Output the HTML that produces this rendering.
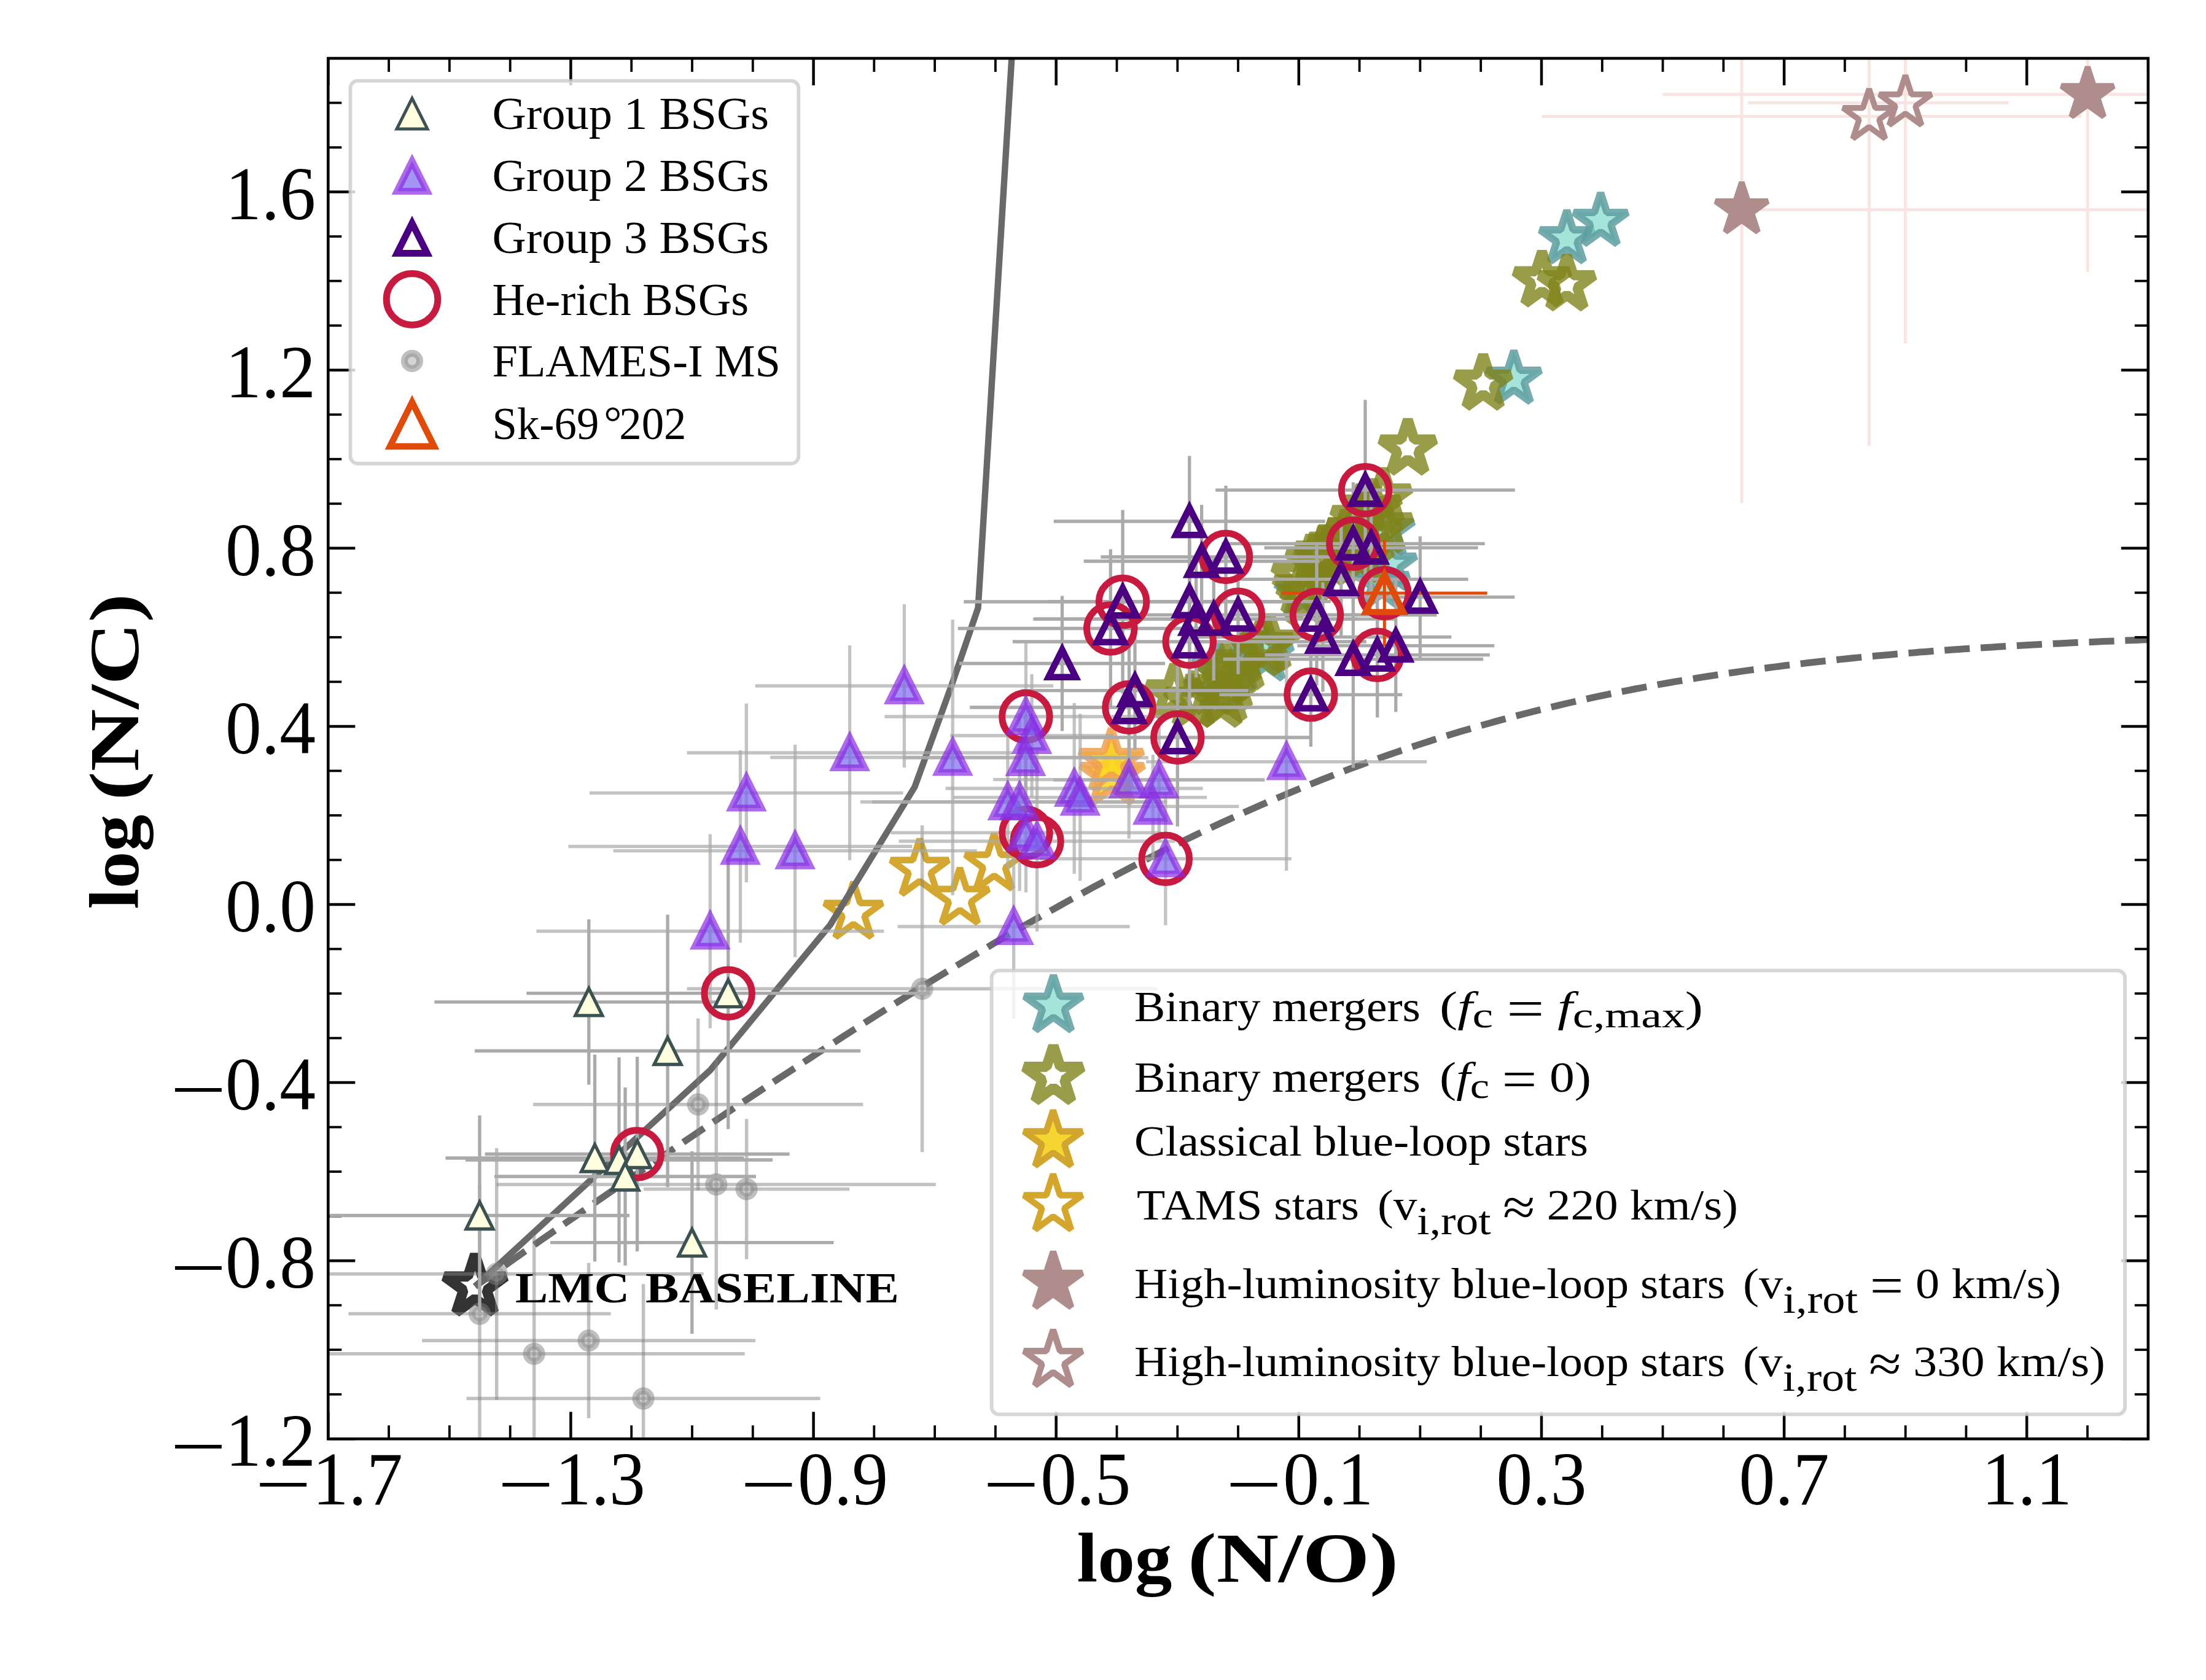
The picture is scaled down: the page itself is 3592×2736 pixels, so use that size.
<!DOCTYPE html>
<html><head><meta charset="utf-8"><title>log(N/C) vs log(N/O)</title>
<style>html,body{margin:0;padding:0;background:#fff}svg{display:block}text{font-family:"Liberation Serif", serif}</style></head><body>
<svg width="3592" height="2736" viewBox="0 0 3592 2736">
<rect width="3592" height="2736" fill="#fff"/>
<defs><clipPath id="ax"><rect x="534.3" y="95.0" width="2963.5" height="2248.3"/></clipPath></defs>
<g clip-path="url(#ax)">
<g id="stars">
<polygon points="773.5,2042.7 785.2,2078.8 823.2,2078.8 792.5,2101.2 804.2,2137.3 773.5,2115.0 742.8,2137.3 754.5,2101.2 723.8,2078.8 761.8,2078.8" fill="none" stroke="#333333" stroke-width="16.70" stroke-linejoin="bevel" />
<polygon points="2061.0,1022.0 2071.3,1053.8 2104.7,1053.8 2077.7,1073.4 2088.0,1105.2 2061.0,1085.6 2034.0,1105.2 2044.3,1073.4 2017.3,1053.8 2050.7,1053.8" fill="rgba(120,215,200,0.67)" stroke="rgba(95,158,160,0.85)" stroke-width="12.00" stroke-linejoin="bevel" />
<polygon points="2015.0,1038.0 2025.3,1069.8 2058.7,1069.8 2031.7,1089.4 2042.0,1121.2 2015.0,1101.6 1988.0,1121.2 1998.3,1089.4 1971.3,1069.8 2004.7,1069.8" fill="rgba(120,215,200,0.67)" stroke="rgba(95,158,160,0.85)" stroke-width="12.00" stroke-linejoin="bevel" />
<polygon points="1985.0,1046.0 1995.3,1077.8 2028.7,1077.8 2001.7,1097.4 2012.0,1129.2 1985.0,1109.6 1958.0,1129.2 1968.3,1097.4 1941.3,1077.8 1974.7,1077.8" fill="rgba(120,215,200,0.67)" stroke="rgba(95,158,160,0.85)" stroke-width="12.00" stroke-linejoin="bevel" />
<polygon points="2121.0,920.0 2131.3,951.8 2164.7,951.8 2137.7,971.4 2148.0,1003.2 2121.0,983.6 2094.0,1003.2 2104.3,971.4 2077.3,951.8 2110.7,951.8" fill="rgba(120,215,200,0.67)" stroke="rgba(95,158,160,0.85)" stroke-width="12.00" stroke-linejoin="bevel" />
<polygon points="2258.0,818.0 2268.3,849.8 2301.7,849.8 2274.7,869.4 2285.0,901.2 2258.0,881.6 2231.0,901.2 2241.3,869.4 2214.3,849.8 2247.7,849.8" fill="rgba(120,215,200,0.67)" stroke="rgba(95,158,160,0.85)" stroke-width="12.00" stroke-linejoin="bevel" />
<polygon points="2262.0,874.0 2272.3,905.8 2305.7,905.8 2278.7,925.4 2289.0,957.2 2262.0,937.6 2235.0,957.2 2245.3,925.4 2218.3,905.8 2251.7,905.8" fill="rgba(120,215,200,0.67)" stroke="rgba(95,158,160,0.85)" stroke-width="12.00" stroke-linejoin="bevel" />
<polygon points="2250.0,904.0 2260.3,935.8 2293.7,935.8 2266.7,955.4 2277.0,987.2 2250.0,967.6 2223.0,987.2 2233.3,955.4 2206.3,935.8 2239.7,935.8" fill="rgba(120,215,200,0.67)" stroke="rgba(95,158,160,0.85)" stroke-width="12.00" stroke-linejoin="bevel" />
<polygon points="2192.0,856.0 2202.3,887.8 2235.7,887.8 2208.7,907.4 2219.0,939.2 2192.0,919.6 2165.0,939.2 2175.3,907.4 2148.3,887.8 2181.7,887.8" fill="rgba(120,215,200,0.67)" stroke="rgba(95,158,160,0.85)" stroke-width="12.00" stroke-linejoin="bevel" />
<polygon points="2465.0,571.2 2475.3,603.0 2508.7,603.0 2481.7,622.6 2492.0,654.4 2465.0,634.8 2438.0,654.4 2448.3,622.6 2421.3,603.0 2454.7,603.0" fill="rgba(120,215,200,0.67)" stroke="rgba(95,158,160,0.85)" stroke-width="12.00" stroke-linejoin="bevel" />
<polygon points="2551.3,342.5 2561.6,374.3 2595.0,374.3 2568.0,393.9 2578.3,425.7 2551.3,406.1 2524.3,425.7 2534.6,393.9 2507.6,374.3 2541.0,374.3" fill="rgba(120,215,200,0.67)" stroke="rgba(95,158,160,0.85)" stroke-width="12.00" stroke-linejoin="bevel" />
<polygon points="2606.3,314.2 2616.6,346.0 2650.0,346.0 2623.0,365.6 2633.3,397.4 2606.3,377.8 2579.3,397.4 2589.6,365.6 2562.6,346.0 2596.0,346.0" fill="rgba(120,215,200,0.67)" stroke="rgba(95,158,160,0.85)" stroke-width="12.00" stroke-linejoin="bevel" />
<polygon points="1912.0,1082.2 1922.5,1114.5 1956.5,1114.5 1929.0,1134.5 1939.5,1166.9 1912.0,1146.9 1884.5,1166.9 1895.0,1134.5 1867.5,1114.5 1901.5,1114.5" fill="none" stroke="rgba(128,131,26,0.8)" stroke-width="16.40" stroke-linejoin="bevel" />
<polygon points="1943.0,1094.2 1953.5,1126.5 1987.5,1126.5 1960.0,1146.5 1970.5,1178.9 1943.0,1158.9 1915.5,1178.9 1926.0,1146.5 1898.5,1126.5 1932.5,1126.5" fill="none" stroke="rgba(128,131,26,0.8)" stroke-width="16.40" stroke-linejoin="bevel" />
<polygon points="1975.0,1073.2 1985.5,1105.5 2019.5,1105.5 1992.0,1125.5 2002.5,1157.9 1975.0,1137.9 1947.5,1157.9 1958.0,1125.5 1930.5,1105.5 1964.5,1105.5" fill="none" stroke="rgba(128,131,26,0.8)" stroke-width="16.40" stroke-linejoin="bevel" />
<polygon points="1988.0,1094.2 1998.5,1126.5 2032.5,1126.5 2005.0,1146.5 2015.5,1178.9 1988.0,1158.9 1960.5,1178.9 1971.0,1146.5 1943.5,1126.5 1977.5,1126.5" fill="none" stroke="rgba(128,131,26,0.8)" stroke-width="16.40" stroke-linejoin="bevel" />
<polygon points="1996.0,1086.2 2006.5,1118.5 2040.5,1118.5 2013.0,1138.5 2023.5,1170.9 1996.0,1150.9 1968.5,1170.9 1979.0,1138.5 1951.5,1118.5 1985.5,1118.5" fill="none" stroke="rgba(128,131,26,0.8)" stroke-width="16.40" stroke-linejoin="bevel" />
<polygon points="2005.0,1065.2 2015.5,1097.5 2049.5,1097.5 2022.0,1117.5 2032.5,1149.9 2005.0,1129.9 1977.5,1149.9 1988.0,1117.5 1960.5,1097.5 1994.5,1097.5" fill="none" stroke="rgba(128,131,26,0.8)" stroke-width="16.40" stroke-linejoin="bevel" />
<polygon points="1995.0,1050.2 2005.5,1082.5 2039.5,1082.5 2012.0,1102.5 2022.5,1134.9 1995.0,1114.9 1967.5,1134.9 1978.0,1102.5 1950.5,1082.5 1984.5,1082.5" fill="none" stroke="rgba(128,131,26,0.8)" stroke-width="16.40" stroke-linejoin="bevel" />
<polygon points="2024.0,1033.2 2034.5,1065.5 2068.5,1065.5 2041.0,1085.5 2051.5,1117.9 2024.0,1097.9 1996.5,1117.9 2007.0,1085.5 1979.5,1065.5 2013.5,1065.5" fill="none" stroke="rgba(128,131,26,0.8)" stroke-width="16.40" stroke-linejoin="bevel" />
<polygon points="2052.0,1010.2 2062.5,1042.5 2096.5,1042.5 2069.0,1062.5 2079.5,1094.9 2052.0,1074.9 2024.5,1094.9 2035.0,1062.5 2007.5,1042.5 2041.5,1042.5" fill="none" stroke="rgba(128,131,26,0.8)" stroke-width="16.40" stroke-linejoin="bevel" />
<polygon points="2060.0,1005.2 2070.5,1037.5 2104.5,1037.5 2077.0,1057.5 2087.5,1089.9 2060.0,1069.9 2032.5,1089.9 2043.0,1057.5 2015.5,1037.5 2049.5,1037.5" fill="none" stroke="rgba(128,131,26,0.8)" stroke-width="16.40" stroke-linejoin="bevel" />
<polygon points="2068.0,1001.2 2078.5,1033.5 2112.5,1033.5 2085.0,1053.5 2095.5,1085.9 2068.0,1065.9 2040.5,1085.9 2051.0,1053.5 2023.5,1033.5 2057.5,1033.5" fill="none" stroke="rgba(128,131,26,0.8)" stroke-width="16.40" stroke-linejoin="bevel" />
<polygon points="2126.0,927.2 2136.5,959.5 2170.5,959.5 2143.0,979.5 2153.5,1011.9 2126.0,991.9 2098.5,1011.9 2109.0,979.5 2081.5,959.5 2115.5,959.5" fill="none" stroke="rgba(128,131,26,0.8)" stroke-width="16.40" stroke-linejoin="bevel" />
<polygon points="2120.0,911.2 2130.5,943.5 2164.5,943.5 2137.0,963.5 2147.5,995.9 2120.0,975.9 2092.5,995.9 2103.0,963.5 2075.5,943.5 2109.5,943.5" fill="none" stroke="rgba(128,131,26,0.8)" stroke-width="16.40" stroke-linejoin="bevel" />
<polygon points="2118.0,891.2 2128.5,923.5 2162.5,923.5 2135.0,943.5 2145.5,975.9 2118.0,955.9 2090.5,975.9 2101.0,943.5 2073.5,923.5 2107.5,923.5" fill="none" stroke="rgba(128,131,26,0.8)" stroke-width="16.40" stroke-linejoin="bevel" />
<polygon points="2140.0,868.2 2150.5,900.5 2184.5,900.5 2157.0,920.5 2167.5,952.9 2140.0,932.9 2112.5,952.9 2123.0,920.5 2095.5,900.5 2129.5,900.5" fill="none" stroke="rgba(128,131,26,0.8)" stroke-width="16.40" stroke-linejoin="bevel" />
<polygon points="2160.0,863.2 2170.5,895.5 2204.5,895.5 2177.0,915.5 2187.5,947.9 2160.0,927.9 2132.5,947.9 2143.0,915.5 2115.5,895.5 2149.5,895.5" fill="none" stroke="rgba(128,131,26,0.8)" stroke-width="16.40" stroke-linejoin="bevel" />
<polygon points="2215.0,858.2 2225.5,890.5 2259.5,890.5 2232.0,910.5 2242.5,942.9 2215.0,922.9 2187.5,942.9 2198.0,910.5 2170.5,890.5 2204.5,890.5" fill="none" stroke="rgba(128,131,26,0.8)" stroke-width="16.40" stroke-linejoin="bevel" />
<polygon points="2155.0,856.2 2165.5,888.5 2199.5,888.5 2172.0,908.5 2182.5,940.9 2155.0,920.9 2127.5,940.9 2138.0,908.5 2110.5,888.5 2144.5,888.5" fill="none" stroke="rgba(128,131,26,0.8)" stroke-width="16.40" stroke-linejoin="bevel" />
<polygon points="2170.0,845.2 2180.5,877.5 2214.5,877.5 2187.0,897.5 2197.5,929.9 2170.0,909.9 2142.5,929.9 2153.0,897.5 2125.5,877.5 2159.5,877.5" fill="none" stroke="rgba(128,131,26,0.8)" stroke-width="16.40" stroke-linejoin="bevel" />
<polygon points="2200.0,846.2 2210.5,878.5 2244.5,878.5 2217.0,898.5 2227.5,930.9 2200.0,910.9 2172.5,930.9 2183.0,898.5 2155.5,878.5 2189.5,878.5" fill="none" stroke="rgba(128,131,26,0.8)" stroke-width="16.40" stroke-linejoin="bevel" />
<polygon points="2190.0,831.2 2200.5,863.5 2234.5,863.5 2207.0,883.5 2217.5,915.9 2190.0,895.9 2162.5,915.9 2173.0,883.5 2145.5,863.5 2179.5,863.5" fill="none" stroke="rgba(128,131,26,0.8)" stroke-width="16.40" stroke-linejoin="bevel" />
<polygon points="2207.0,818.2 2217.5,850.5 2251.5,850.5 2224.0,870.5 2234.5,902.9 2207.0,882.9 2179.5,902.9 2190.0,870.5 2162.5,850.5 2196.5,850.5" fill="none" stroke="rgba(128,131,26,0.8)" stroke-width="16.40" stroke-linejoin="bevel" />
<polygon points="2236.0,823.2 2246.5,855.5 2280.5,855.5 2253.0,875.5 2263.5,907.9 2236.0,887.9 2208.5,907.9 2219.0,875.5 2191.5,855.5 2225.5,855.5" fill="none" stroke="rgba(128,131,26,0.8)" stroke-width="16.40" stroke-linejoin="bevel" />
<polygon points="2214.0,798.2 2224.5,830.5 2258.5,830.5 2231.0,850.5 2241.5,882.9 2214.0,862.9 2186.5,882.9 2197.0,850.5 2169.5,830.5 2203.5,830.5" fill="none" stroke="rgba(128,131,26,0.8)" stroke-width="16.40" stroke-linejoin="bevel" />
<polygon points="2254.0,810.2 2264.5,842.5 2298.5,842.5 2271.0,862.5 2281.5,894.9 2254.0,874.9 2226.5,894.9 2237.0,862.5 2209.5,842.5 2243.5,842.5" fill="none" stroke="rgba(128,131,26,0.8)" stroke-width="16.40" stroke-linejoin="bevel" />
<polygon points="2235.0,781.2 2245.5,813.5 2279.5,813.5 2252.0,833.5 2262.5,865.9 2235.0,845.9 2207.5,865.9 2218.0,833.5 2190.5,813.5 2224.5,813.5" fill="none" stroke="rgba(128,131,26,0.8)" stroke-width="16.40" stroke-linejoin="bevel" />
<polygon points="2252.0,763.2 2262.5,795.5 2296.5,795.5 2269.0,815.5 2279.5,847.9 2252.0,827.9 2224.5,847.9 2235.0,815.5 2207.5,795.5 2241.5,795.5" fill="none" stroke="rgba(128,131,26,0.8)" stroke-width="16.40" stroke-linejoin="bevel" />
<polygon points="2292.3,683.4 2302.8,715.7 2336.8,715.7 2309.3,735.7 2319.8,768.1 2292.3,748.1 2264.8,768.1 2275.3,735.7 2247.8,715.7 2281.8,715.7" fill="none" stroke="rgba(128,131,26,0.8)" stroke-width="16.40" stroke-linejoin="bevel" />
<polygon points="2415.0,577.7 2425.5,610.0 2459.5,610.0 2432.0,630.0 2442.5,662.4 2415.0,642.4 2387.5,662.4 2398.0,630.0 2370.5,610.0 2404.5,610.0" fill="none" stroke="rgba(128,131,26,0.8)" stroke-width="16.40" stroke-linejoin="bevel" />
<polygon points="2510.8,409.5 2521.3,441.8 2555.3,441.8 2527.8,461.8 2538.3,494.2 2510.8,474.2 2483.3,494.2 2493.8,461.8 2466.3,441.8 2500.3,441.8" fill="none" stroke="rgba(128,131,26,0.8)" stroke-width="16.40" stroke-linejoin="bevel" />
<polygon points="2551.3,416.0 2561.8,448.3 2595.8,448.3 2568.3,468.3 2578.8,500.7 2551.3,480.7 2523.8,500.7 2534.3,468.3 2506.8,448.3 2540.8,448.3" fill="none" stroke="rgba(128,131,26,0.8)" stroke-width="16.40" stroke-linejoin="bevel" />
<polygon points="1811.0,1209.3 1823.2,1246.8 1862.5,1246.8 1830.7,1269.9 1842.9,1307.3 1811.0,1284.2 1779.1,1307.3 1791.3,1269.9 1759.5,1246.8 1798.8,1246.8" fill="rgba(250,215,30,0.85)" stroke="rgba(238,160,80,0.85)" stroke-width="12.00" stroke-linejoin="bevel" />
<polygon points="1809.5,1186.4 1821.7,1223.9 1861.0,1223.9 1829.2,1247.0 1841.4,1284.4 1809.5,1261.3 1777.6,1284.4 1789.8,1247.0 1758.0,1223.9 1797.3,1223.9" fill="rgba(250,215,30,0.85)" stroke="rgba(238,160,80,0.85)" stroke-width="12.00" stroke-linejoin="bevel" />
<polygon points="1389.6,1436.4 1400.7,1470.7 1436.8,1470.7 1407.6,1491.9 1418.8,1526.1 1389.6,1504.9 1360.4,1526.1 1371.6,1491.9 1342.4,1470.7 1378.5,1470.7" fill="none" stroke="#D4A830" stroke-width="10.80" stroke-linejoin="bevel" />
<polygon points="1497.5,1366.4 1508.6,1400.7 1544.7,1400.7 1515.5,1421.9 1526.7,1456.1 1497.5,1434.9 1468.3,1456.1 1479.5,1421.9 1450.3,1400.7 1486.4,1400.7" fill="none" stroke="#D4A830" stroke-width="10.80" stroke-linejoin="bevel" />
<polygon points="1562.9,1413.5 1574.0,1447.8 1610.1,1447.8 1580.9,1469.0 1592.1,1503.2 1562.9,1482.0 1533.7,1503.2 1544.9,1469.0 1515.7,1447.8 1551.8,1447.8" fill="none" stroke="#D4A830" stroke-width="10.80" stroke-linejoin="bevel" />
<polygon points="1618.8,1357.7 1629.9,1392.0 1666.0,1392.0 1636.8,1413.2 1648.0,1447.4 1618.8,1426.2 1589.6,1447.4 1600.8,1413.2 1571.6,1392.0 1607.7,1392.0" fill="none" stroke="#D4A830" stroke-width="10.80" stroke-linejoin="bevel" />
</g>
<g id="lines" fill="none" stroke="#696969" stroke-width="11">
<polyline points="773.5,2095.0 1157.0,1742.3 1352.0,1506.0 1489.4,1281.6 1550.0,1114.6 1592.6,990.0 1647.5,92.0" stroke-width="10.4" stroke-linejoin="round"/>
<polyline points="773.5,2095.0 782.6,2088.6 791.7,2082.2 800.7,2075.8 809.8,2069.4 818.9,2063.1 828.0,2056.7 837.1,2050.3 846.1,2044.0 855.2,2037.6 864.3,2031.3 873.4,2024.9 882.5,2018.6 891.6,2012.2 900.6,2005.9 909.7,1999.6 918.8,1993.3 927.9,1987.0 937.0,1980.7 946.0,1974.4 955.1,1968.1 964.2,1961.8 973.3,1955.5 982.4,1949.3 991.4,1943.0 1000.5,1936.7 1009.6,1930.5 1018.7,1924.3 1027.8,1918.0 1036.8,1911.8 1045.9,1905.6 1055.0,1899.4 1064.1,1893.2 1073.2,1887.0 1082.3,1880.8 1091.3,1874.6 1100.4,1868.5 1109.5,1862.3 1118.6,1856.1 1127.7,1850.0 1136.7,1843.9 1145.8,1837.8 1154.9,1831.6 1164.0,1825.6 1173.1,1819.5 1182.1,1813.4 1191.2,1807.3 1200.3,1801.3 1209.4,1795.2 1218.5,1789.2 1227.5,1783.2 1236.6,1777.1 1245.7,1771.1 1254.8,1765.2 1263.9,1759.2 1273.0,1753.2 1282.0,1747.3 1291.1,1741.3 1300.2,1735.4 1309.3,1729.5 1318.4,1723.6 1327.4,1717.7 1336.5,1711.7 1345.6,1705.8 1354.7,1699.9 1363.8,1694.1 1372.8,1688.2 1381.9,1682.4 1391.0,1676.5 1400.1,1670.7 1409.2,1664.9 1418.3,1659.1 1427.3,1653.4 1436.4,1647.6 1445.5,1641.9 1454.6,1636.2 1463.7,1630.5 1472.7,1624.8 1481.8,1619.2 1490.9,1613.5 1500.0,1607.9 1509.1,1602.3 1518.1,1596.7 1527.2,1591.1 1536.3,1585.6 1545.4,1580.0 1554.5,1574.5 1563.5,1569.1 1572.6,1563.6 1581.7,1558.1 1590.8,1552.7 1599.9,1547.3 1609.0,1541.9 1618.0,1536.6 1627.1,1531.2 1636.2,1525.9 1645.3,1520.6 1654.4,1515.4 1663.4,1510.1 1672.5,1504.9 1681.6,1499.7 1690.7,1494.5 1699.8,1489.4 1708.8,1484.3 1717.9,1479.2 1727.0,1474.1 1736.1,1469.0 1745.2,1464.0 1754.2,1459.0 1763.3,1454.1 1772.4,1449.1 1781.5,1444.2 1790.6,1439.3 1799.7,1434.5 1808.7,1429.6 1817.8,1424.8 1826.9,1420.1 1836.0,1415.3 1845.1,1410.6 1854.1,1405.9 1863.2,1401.3 1872.3,1396.6 1881.4,1392.0 1890.5,1387.5 1899.5,1383.0 1908.6,1378.4 1917.7,1374.0 1926.8,1369.5 1935.9,1365.1 1944.9,1360.7 1954.0,1356.4 1963.1,1352.1 1972.2,1347.8 1981.3,1343.6 1990.4,1339.3 1999.4,1335.2 2008.5,1331.0 2017.6,1326.9 2026.7,1322.8 2035.8,1318.8 2044.8,1314.7 2053.9,1310.8 2063.0,1306.8 2072.1,1302.9 2081.2,1299.0 2090.2,1295.2 2099.3,1291.4 2108.4,1287.6 2117.5,1283.8 2126.6,1280.1 2135.6,1276.5 2144.7,1272.8 2153.8,1269.2 2162.9,1265.7 2172.0,1262.1 2181.1,1258.6 2190.1,1255.2 2199.2,1251.7 2208.3,1248.3 2217.4,1245.0 2226.5,1241.7 2235.5,1238.4 2244.6,1235.1 2253.7,1231.9 2262.8,1228.7 2271.9,1225.6 2280.9,1222.5 2290.0,1219.4 2299.1,1216.4 2308.2,1213.4 2317.3,1210.4 2326.4,1207.5 2335.4,1204.6 2344.5,1201.7 2353.6,1198.9 2362.7,1196.1 2371.8,1193.3 2380.8,1190.6 2389.9,1187.9 2399.0,1185.2 2408.1,1182.6 2417.2,1180.0 2426.2,1177.5 2435.3,1174.9 2444.4,1172.4 2453.5,1170.0 2462.6,1167.5 2471.6,1165.2 2480.7,1162.8 2489.8,1160.5 2498.9,1158.2 2508.0,1155.9 2517.1,1153.7 2526.1,1151.5 2535.2,1149.3 2544.3,1147.2 2553.4,1145.0 2562.5,1143.0 2571.5,1140.9 2580.6,1138.9 2589.7,1136.9 2598.8,1134.9 2607.9,1133.0 2616.9,1131.1 2626.0,1129.2 2635.1,1127.4 2644.2,1125.6 2653.3,1123.8 2662.3,1122.0 2671.4,1120.3 2680.5,1118.6 2689.6,1116.9 2698.7,1115.2 2707.8,1113.6 2716.8,1112.0 2725.9,1110.4 2735.0,1108.9 2744.1,1107.4 2753.2,1105.9 2762.2,1104.4 2771.3,1102.9 2780.4,1101.5 2789.5,1100.1 2798.6,1098.7 2807.6,1097.3 2816.7,1096.0 2825.8,1094.7 2834.9,1093.4 2844.0,1092.1 2853.0,1090.9 2862.1,1089.7 2871.2,1088.5 2880.3,1087.3 2889.4,1086.1 2898.5,1085.0 2907.5,1083.8 2916.6,1082.7 2925.7,1081.7 2934.8,1080.6 2943.9,1079.5 2952.9,1078.5 2962.0,1077.5 2971.1,1076.5 2980.2,1075.5 2989.3,1074.6 2998.3,1073.6 3007.4,1072.7 3016.5,1071.8 3025.6,1070.9 3034.7,1070.0 3043.8,1069.2 3052.8,1068.3 3061.9,1067.5 3071.0,1066.7 3080.1,1065.9 3089.2,1065.1 3098.2,1064.4 3107.3,1063.6 3116.4,1062.9 3125.5,1062.1 3134.6,1061.4 3143.6,1060.7 3152.7,1060.0 3161.8,1059.4 3170.9,1058.7 3180.0,1058.1 3189.0,1057.4 3198.1,1056.8 3207.2,1056.2 3216.3,1055.6 3225.4,1055.0 3234.5,1054.4 3243.5,1053.9 3252.6,1053.3 3261.7,1052.8 3270.8,1052.2 3279.9,1051.7 3288.9,1051.2 3298.0,1050.7 3307.1,1050.2 3316.2,1049.7 3325.3,1049.2 3334.3,1048.8 3343.4,1048.3 3352.5,1047.9 3361.6,1047.4 3370.7,1047.0 3379.7,1046.6 3388.8,1046.2 3397.9,1045.8 3407.0,1045.4 3416.1,1045.0 3425.2,1044.6 3434.2,1044.2 3443.3,1043.9 3452.4,1043.5 3461.5,1043.1 3470.6,1042.8 3479.6,1042.5 3488.7,1042.1 3497.8,1041.8" stroke-dasharray="41.1 17.8"/>
</g>
</g>
<g id="ticks" stroke="#000">
<line x1="534.3" y1="2343.3" x2="534.3" y2="2299.3" stroke-width="4.5"/>
<line x1="534.3" y1="95.0" x2="534.3" y2="139.0" stroke-width="4.5"/>
<line x1="633.1" y1="2343.3" x2="633.1" y2="2321.3" stroke-width="3.8"/>
<line x1="633.1" y1="95.0" x2="633.1" y2="117.0" stroke-width="3.8"/>
<line x1="731.9" y1="2343.3" x2="731.9" y2="2321.3" stroke-width="3.8"/>
<line x1="731.9" y1="95.0" x2="731.9" y2="117.0" stroke-width="3.8"/>
<line x1="830.7" y1="2343.3" x2="830.7" y2="2321.3" stroke-width="3.8"/>
<line x1="830.7" y1="95.0" x2="830.7" y2="117.0" stroke-width="3.8"/>
<line x1="929.4" y1="2343.3" x2="929.4" y2="2299.3" stroke-width="4.5"/>
<line x1="929.4" y1="95.0" x2="929.4" y2="139.0" stroke-width="4.5"/>
<line x1="1028.2" y1="2343.3" x2="1028.2" y2="2321.3" stroke-width="3.8"/>
<line x1="1028.2" y1="95.0" x2="1028.2" y2="117.0" stroke-width="3.8"/>
<line x1="1127.0" y1="2343.3" x2="1127.0" y2="2321.3" stroke-width="3.8"/>
<line x1="1127.0" y1="95.0" x2="1127.0" y2="117.0" stroke-width="3.8"/>
<line x1="1225.8" y1="2343.3" x2="1225.8" y2="2321.3" stroke-width="3.8"/>
<line x1="1225.8" y1="95.0" x2="1225.8" y2="117.0" stroke-width="3.8"/>
<line x1="1324.6" y1="2343.3" x2="1324.6" y2="2299.3" stroke-width="4.5"/>
<line x1="1324.6" y1="95.0" x2="1324.6" y2="139.0" stroke-width="4.5"/>
<line x1="1423.3" y1="2343.3" x2="1423.3" y2="2321.3" stroke-width="3.8"/>
<line x1="1423.3" y1="95.0" x2="1423.3" y2="117.0" stroke-width="3.8"/>
<line x1="1522.1" y1="2343.3" x2="1522.1" y2="2321.3" stroke-width="3.8"/>
<line x1="1522.1" y1="95.0" x2="1522.1" y2="117.0" stroke-width="3.8"/>
<line x1="1620.9" y1="2343.3" x2="1620.9" y2="2321.3" stroke-width="3.8"/>
<line x1="1620.9" y1="95.0" x2="1620.9" y2="117.0" stroke-width="3.8"/>
<line x1="1719.7" y1="2343.3" x2="1719.7" y2="2299.3" stroke-width="4.5"/>
<line x1="1719.7" y1="95.0" x2="1719.7" y2="139.0" stroke-width="4.5"/>
<line x1="1818.5" y1="2343.3" x2="1818.5" y2="2321.3" stroke-width="3.8"/>
<line x1="1818.5" y1="95.0" x2="1818.5" y2="117.0" stroke-width="3.8"/>
<line x1="1917.3" y1="2343.3" x2="1917.3" y2="2321.3" stroke-width="3.8"/>
<line x1="1917.3" y1="95.0" x2="1917.3" y2="117.0" stroke-width="3.8"/>
<line x1="2016.0" y1="2343.3" x2="2016.0" y2="2321.3" stroke-width="3.8"/>
<line x1="2016.0" y1="95.0" x2="2016.0" y2="117.0" stroke-width="3.8"/>
<line x1="2114.8" y1="2343.3" x2="2114.8" y2="2299.3" stroke-width="4.5"/>
<line x1="2114.8" y1="95.0" x2="2114.8" y2="139.0" stroke-width="4.5"/>
<line x1="2213.6" y1="2343.3" x2="2213.6" y2="2321.3" stroke-width="3.8"/>
<line x1="2213.6" y1="95.0" x2="2213.6" y2="117.0" stroke-width="3.8"/>
<line x1="2312.4" y1="2343.3" x2="2312.4" y2="2321.3" stroke-width="3.8"/>
<line x1="2312.4" y1="95.0" x2="2312.4" y2="117.0" stroke-width="3.8"/>
<line x1="2411.2" y1="2343.3" x2="2411.2" y2="2321.3" stroke-width="3.8"/>
<line x1="2411.2" y1="95.0" x2="2411.2" y2="117.0" stroke-width="3.8"/>
<line x1="2510.0" y1="2343.3" x2="2510.0" y2="2299.3" stroke-width="4.5"/>
<line x1="2510.0" y1="95.0" x2="2510.0" y2="139.0" stroke-width="4.5"/>
<line x1="2608.8" y1="2343.3" x2="2608.8" y2="2321.3" stroke-width="3.8"/>
<line x1="2608.8" y1="95.0" x2="2608.8" y2="117.0" stroke-width="3.8"/>
<line x1="2707.5" y1="2343.3" x2="2707.5" y2="2321.3" stroke-width="3.8"/>
<line x1="2707.5" y1="95.0" x2="2707.5" y2="117.0" stroke-width="3.8"/>
<line x1="2806.3" y1="2343.3" x2="2806.3" y2="2321.3" stroke-width="3.8"/>
<line x1="2806.3" y1="95.0" x2="2806.3" y2="117.0" stroke-width="3.8"/>
<line x1="2905.1" y1="2343.3" x2="2905.1" y2="2299.3" stroke-width="4.5"/>
<line x1="2905.1" y1="95.0" x2="2905.1" y2="139.0" stroke-width="4.5"/>
<line x1="3003.9" y1="2343.3" x2="3003.9" y2="2321.3" stroke-width="3.8"/>
<line x1="3003.9" y1="95.0" x2="3003.9" y2="117.0" stroke-width="3.8"/>
<line x1="3102.7" y1="2343.3" x2="3102.7" y2="2321.3" stroke-width="3.8"/>
<line x1="3102.7" y1="95.0" x2="3102.7" y2="117.0" stroke-width="3.8"/>
<line x1="3201.4" y1="2343.3" x2="3201.4" y2="2321.3" stroke-width="3.8"/>
<line x1="3201.4" y1="95.0" x2="3201.4" y2="117.0" stroke-width="3.8"/>
<line x1="3300.2" y1="2343.3" x2="3300.2" y2="2299.3" stroke-width="4.5"/>
<line x1="3300.2" y1="95.0" x2="3300.2" y2="139.0" stroke-width="4.5"/>
<line x1="3399.0" y1="2343.3" x2="3399.0" y2="2321.3" stroke-width="3.8"/>
<line x1="3399.0" y1="95.0" x2="3399.0" y2="117.0" stroke-width="3.8"/>
<line x1="3497.8" y1="2343.3" x2="3497.8" y2="2321.3" stroke-width="3.8"/>
<line x1="3497.8" y1="95.0" x2="3497.8" y2="117.0" stroke-width="3.8"/>
<line x1="534.3" y1="2343.3" x2="578.3" y2="2343.3" stroke-width="4.5"/>
<line x1="3497.8" y1="2343.3" x2="3453.8" y2="2343.3" stroke-width="4.5"/>
<line x1="534.3" y1="2270.8" x2="556.3" y2="2270.8" stroke-width="3.8"/>
<line x1="3497.8" y1="2270.8" x2="3475.8" y2="2270.8" stroke-width="3.8"/>
<line x1="534.3" y1="2198.2" x2="556.3" y2="2198.2" stroke-width="3.8"/>
<line x1="3497.8" y1="2198.2" x2="3475.8" y2="2198.2" stroke-width="3.8"/>
<line x1="534.3" y1="2125.7" x2="556.3" y2="2125.7" stroke-width="3.8"/>
<line x1="3497.8" y1="2125.7" x2="3475.8" y2="2125.7" stroke-width="3.8"/>
<line x1="534.3" y1="2053.2" x2="578.3" y2="2053.2" stroke-width="4.5"/>
<line x1="3497.8" y1="2053.2" x2="3453.8" y2="2053.2" stroke-width="4.5"/>
<line x1="534.3" y1="1980.7" x2="556.3" y2="1980.7" stroke-width="3.8"/>
<line x1="3497.8" y1="1980.7" x2="3475.8" y2="1980.7" stroke-width="3.8"/>
<line x1="534.3" y1="1908.1" x2="556.3" y2="1908.1" stroke-width="3.8"/>
<line x1="3497.8" y1="1908.1" x2="3475.8" y2="1908.1" stroke-width="3.8"/>
<line x1="534.3" y1="1835.6" x2="556.3" y2="1835.6" stroke-width="3.8"/>
<line x1="3497.8" y1="1835.6" x2="3475.8" y2="1835.6" stroke-width="3.8"/>
<line x1="534.3" y1="1763.1" x2="578.3" y2="1763.1" stroke-width="4.5"/>
<line x1="3497.8" y1="1763.1" x2="3453.8" y2="1763.1" stroke-width="4.5"/>
<line x1="534.3" y1="1690.6" x2="556.3" y2="1690.6" stroke-width="3.8"/>
<line x1="3497.8" y1="1690.6" x2="3475.8" y2="1690.6" stroke-width="3.8"/>
<line x1="534.3" y1="1618.0" x2="556.3" y2="1618.0" stroke-width="3.8"/>
<line x1="3497.8" y1="1618.0" x2="3475.8" y2="1618.0" stroke-width="3.8"/>
<line x1="534.3" y1="1545.5" x2="556.3" y2="1545.5" stroke-width="3.8"/>
<line x1="3497.8" y1="1545.5" x2="3475.8" y2="1545.5" stroke-width="3.8"/>
<line x1="534.3" y1="1473.0" x2="578.3" y2="1473.0" stroke-width="4.5"/>
<line x1="3497.8" y1="1473.0" x2="3453.8" y2="1473.0" stroke-width="4.5"/>
<line x1="534.3" y1="1400.5" x2="556.3" y2="1400.5" stroke-width="3.8"/>
<line x1="3497.8" y1="1400.5" x2="3475.8" y2="1400.5" stroke-width="3.8"/>
<line x1="534.3" y1="1327.9" x2="556.3" y2="1327.9" stroke-width="3.8"/>
<line x1="3497.8" y1="1327.9" x2="3475.8" y2="1327.9" stroke-width="3.8"/>
<line x1="534.3" y1="1255.4" x2="556.3" y2="1255.4" stroke-width="3.8"/>
<line x1="3497.8" y1="1255.4" x2="3475.8" y2="1255.4" stroke-width="3.8"/>
<line x1="534.3" y1="1182.9" x2="578.3" y2="1182.9" stroke-width="4.5"/>
<line x1="3497.8" y1="1182.9" x2="3453.8" y2="1182.9" stroke-width="4.5"/>
<line x1="534.3" y1="1110.4" x2="556.3" y2="1110.4" stroke-width="3.8"/>
<line x1="3497.8" y1="1110.4" x2="3475.8" y2="1110.4" stroke-width="3.8"/>
<line x1="534.3" y1="1037.8" x2="556.3" y2="1037.8" stroke-width="3.8"/>
<line x1="3497.8" y1="1037.8" x2="3475.8" y2="1037.8" stroke-width="3.8"/>
<line x1="534.3" y1="965.3" x2="556.3" y2="965.3" stroke-width="3.8"/>
<line x1="3497.8" y1="965.3" x2="3475.8" y2="965.3" stroke-width="3.8"/>
<line x1="534.3" y1="892.8" x2="578.3" y2="892.8" stroke-width="4.5"/>
<line x1="3497.8" y1="892.8" x2="3453.8" y2="892.8" stroke-width="4.5"/>
<line x1="534.3" y1="820.3" x2="556.3" y2="820.3" stroke-width="3.8"/>
<line x1="3497.8" y1="820.3" x2="3475.8" y2="820.3" stroke-width="3.8"/>
<line x1="534.3" y1="747.7" x2="556.3" y2="747.7" stroke-width="3.8"/>
<line x1="3497.8" y1="747.7" x2="3475.8" y2="747.7" stroke-width="3.8"/>
<line x1="534.3" y1="675.2" x2="556.3" y2="675.2" stroke-width="3.8"/>
<line x1="3497.8" y1="675.2" x2="3475.8" y2="675.2" stroke-width="3.8"/>
<line x1="534.3" y1="602.7" x2="578.3" y2="602.7" stroke-width="4.5"/>
<line x1="3497.8" y1="602.7" x2="3453.8" y2="602.7" stroke-width="4.5"/>
<line x1="534.3" y1="530.2" x2="556.3" y2="530.2" stroke-width="3.8"/>
<line x1="3497.8" y1="530.2" x2="3475.8" y2="530.2" stroke-width="3.8"/>
<line x1="534.3" y1="457.6" x2="556.3" y2="457.6" stroke-width="3.8"/>
<line x1="3497.8" y1="457.6" x2="3475.8" y2="457.6" stroke-width="3.8"/>
<line x1="534.3" y1="385.1" x2="556.3" y2="385.1" stroke-width="3.8"/>
<line x1="3497.8" y1="385.1" x2="3475.8" y2="385.1" stroke-width="3.8"/>
<line x1="534.3" y1="312.6" x2="578.3" y2="312.6" stroke-width="4.5"/>
<line x1="3497.8" y1="312.6" x2="3453.8" y2="312.6" stroke-width="4.5"/>
<line x1="534.3" y1="240.1" x2="556.3" y2="240.1" stroke-width="3.8"/>
<line x1="3497.8" y1="240.1" x2="3475.8" y2="240.1" stroke-width="3.8"/>
<line x1="534.3" y1="167.5" x2="556.3" y2="167.5" stroke-width="3.8"/>
<line x1="3497.8" y1="167.5" x2="3475.8" y2="167.5" stroke-width="3.8"/>
<line x1="534.3" y1="95.0" x2="556.3" y2="95.0" stroke-width="3.8"/>
<line x1="3497.8" y1="95.0" x2="3475.8" y2="95.0" stroke-width="3.8"/>
</g>
<g clip-path="url(#ax)">
<line x1="2836.0" y1="341.5" x2="3536.0" y2="341.5" stroke="rgb(248,228,225)" stroke-width="5.0"/>
<line x1="2836.0" y1="41.5" x2="2836.0" y2="819.5" stroke="rgb(248,228,225)" stroke-width="5.0"/>
<line x1="2510.7" y1="189.5" x2="3389.0" y2="189.5" stroke="rgb(248,228,225)" stroke-width="5.0"/>
<line x1="3043.4" y1="-110.5" x2="3043.4" y2="725.7" stroke="rgb(248,228,225)" stroke-width="5.0"/>
<line x1="2846.1" y1="167.6" x2="3270.4" y2="167.6" stroke="rgb(248,228,225)" stroke-width="5.0"/>
<line x1="3102.5" y1="-132.4" x2="3102.5" y2="558.9" stroke="rgb(248,228,225)" stroke-width="5.0"/>
<line x1="2707.3" y1="153.8" x2="3699.2" y2="153.8" stroke="rgb(248,228,225)" stroke-width="5.0"/>
<line x1="3399.2" y1="-146.2" x2="3399.2" y2="442.5" stroke="rgb(248,228,225)" stroke-width="5.0"/>
<polygon points="2836.0,296.7 2846.1,327.7 2878.6,327.7 2852.3,346.8 2862.3,377.7 2836.0,358.6 2809.7,377.7 2819.7,346.8 2793.4,327.7 2825.9,327.7" fill="#B08D8D" stroke="#B08D8D" stroke-width="9.40" stroke-linejoin="bevel" />
<polygon points="3043.4,144.7 3053.5,175.7 3086.0,175.7 3059.7,194.8 3069.7,225.7 3043.4,206.6 3017.1,225.7 3027.1,194.8 3000.8,175.7 3033.3,175.7" fill="none" stroke="#B08D8D" stroke-width="9.40" stroke-linejoin="bevel" />
<polygon points="3102.5,122.8 3112.6,153.8 3145.1,153.8 3118.8,172.9 3128.8,203.8 3102.5,184.7 3076.2,203.8 3086.2,172.9 3059.9,153.8 3092.4,153.8" fill="none" stroke="#B08D8D" stroke-width="9.40" stroke-linejoin="bevel" />
<polygon points="3399.2,109.0 3409.3,140.0 3441.8,140.0 3415.5,159.1 3425.5,190.0 3399.2,170.9 3372.9,190.0 3382.9,159.1 3356.6,140.0 3389.1,140.0" fill="#B08D8D" stroke="#B08D8D" stroke-width="9.40" stroke-linejoin="bevel" />
<g id="flames">
<line x1="471.7" y1="2074.7" x2="1145.7" y2="2074.7" stroke="rgba(128,128,128,0.49)" stroke-width="5.5"/>
<line x1="808.7" y1="1869.7" x2="808.7" y2="2279.7" stroke="rgba(128,128,128,0.49)" stroke-width="5.5"/>
<line x1="567.4" y1="2139.6" x2="994.6" y2="2139.6" stroke="rgba(128,128,128,0.49)" stroke-width="5.5"/>
<line x1="781.0" y1="1929.6" x2="781.0" y2="2349.6" stroke="rgba(128,128,128,0.49)" stroke-width="5.5"/>
<line x1="687.2" y1="2183.3" x2="1230.0" y2="2183.3" stroke="rgba(128,128,128,0.49)" stroke-width="5.5"/>
<line x1="958.6" y1="2056.8" x2="958.6" y2="2309.8" stroke="rgba(128,128,128,0.49)" stroke-width="5.5"/>
<line x1="526.7" y1="2204.8" x2="1212.7" y2="2204.8" stroke="rgba(128,128,128,0.49)" stroke-width="5.5"/>
<line x1="869.7" y1="2010.8" x2="869.7" y2="2398.8" stroke="rgba(128,128,128,0.49)" stroke-width="5.5"/>
<line x1="759.6" y1="2277.6" x2="1335.6" y2="2277.6" stroke="rgba(128,128,128,0.49)" stroke-width="5.5"/>
<line x1="1047.6" y1="2091.3" x2="1047.6" y2="2463.9" stroke="rgba(128,128,128,0.49)" stroke-width="5.5"/>
<line x1="868.1" y1="1798.7" x2="1405.3" y2="1798.7" stroke="rgba(128,128,128,0.49)" stroke-width="5.5"/>
<line x1="1136.7" y1="1658.7" x2="1136.7" y2="1938.7" stroke="rgba(128,128,128,0.49)" stroke-width="5.5"/>
<line x1="1118.6" y1="1610.3" x2="1884.6" y2="1610.3" stroke="rgba(128,128,128,0.49)" stroke-width="5.5"/>
<line x1="1501.6" y1="1344.3" x2="1501.6" y2="1876.3" stroke="rgba(128,128,128,0.49)" stroke-width="5.5"/>
<line x1="808.8" y1="1928.9" x2="1523.8" y2="1928.9" stroke="rgba(128,128,128,0.49)" stroke-width="5.5"/>
<line x1="1166.3" y1="1725.3" x2="1166.3" y2="2132.5" stroke="rgba(128,128,128,0.49)" stroke-width="5.5"/>
<line x1="1048.0" y1="1936.5" x2="1383.2" y2="1936.5" stroke="rgba(128,128,128,0.49)" stroke-width="5.5"/>
<line x1="1215.6" y1="1822.3" x2="1215.6" y2="2050.7" stroke="rgba(128,128,128,0.49)" stroke-width="5.5"/>
<circle cx="808.7" cy="2074.7" r="12.55" fill="rgba(160,160,160,0.45)" stroke="rgba(128,128,128,0.5)" stroke-width="11.1"/>
<circle cx="781.0" cy="2139.6" r="12.55" fill="rgba(160,160,160,0.45)" stroke="rgba(128,128,128,0.5)" stroke-width="11.1"/>
<circle cx="958.6" cy="2183.3" r="12.55" fill="rgba(160,160,160,0.45)" stroke="rgba(128,128,128,0.5)" stroke-width="11.1"/>
<circle cx="869.7" cy="2204.8" r="12.55" fill="rgba(160,160,160,0.45)" stroke="rgba(128,128,128,0.5)" stroke-width="11.1"/>
<circle cx="1047.6" cy="2277.6" r="12.55" fill="rgba(160,160,160,0.45)" stroke="rgba(128,128,128,0.5)" stroke-width="11.1"/>
<circle cx="1136.7" cy="1798.7" r="12.55" fill="rgba(160,160,160,0.45)" stroke="rgba(128,128,128,0.5)" stroke-width="11.1"/>
<circle cx="1501.6" cy="1610.3" r="12.55" fill="rgba(160,160,160,0.45)" stroke="rgba(128,128,128,0.5)" stroke-width="11.1"/>
<circle cx="1166.3" cy="1928.9" r="12.55" fill="rgba(160,160,160,0.45)" stroke="rgba(128,128,128,0.5)" stroke-width="11.1"/>
<circle cx="1215.6" cy="1936.5" r="12.55" fill="rgba(160,160,160,0.45)" stroke="rgba(128,128,128,0.5)" stroke-width="11.1"/>
</g>
<g id="bars">
<line x1="537.0" y1="1979.5" x2="1025.0" y2="1979.5" stroke="rgb(170,170,170)" stroke-width="5.3"/>
<line x1="781.0" y1="1816.5" x2="781.0" y2="2142.5" stroke="rgb(170,170,170)" stroke-width="5.3"/>
<line x1="707.3" y1="1631.8" x2="1210.3" y2="1631.8" stroke="rgb(170,170,170)" stroke-width="5.3"/>
<line x1="958.8" y1="1497.2" x2="958.8" y2="1766.4" stroke="rgb(170,170,170)" stroke-width="5.3"/>
<line x1="773.1" y1="1711.5" x2="1401.1" y2="1711.5" stroke="rgb(170,170,170)" stroke-width="5.3"/>
<line x1="1087.1" y1="1489.7" x2="1087.1" y2="1933.3" stroke="rgb(170,170,170)" stroke-width="5.3"/>
<line x1="857.3" y1="1617.7" x2="1514.1" y2="1617.7" stroke="rgb(170,170,170)" stroke-width="5.3"/>
<line x1="1185.7" y1="1396.7" x2="1185.7" y2="1838.7" stroke="rgb(170,170,170)" stroke-width="5.3"/>
<line x1="725.5" y1="1886.0" x2="1211.5" y2="1886.0" stroke="rgb(170,170,170)" stroke-width="5.3"/>
<line x1="968.5" y1="1717.5" x2="968.5" y2="2054.5" stroke="rgb(170,170,170)" stroke-width="5.3"/>
<line x1="758.0" y1="1889.0" x2="1258.0" y2="1889.0" stroke="rgb(170,170,170)" stroke-width="5.3"/>
<line x1="1008.0" y1="1722.0" x2="1008.0" y2="2056.0" stroke="rgb(170,170,170)" stroke-width="5.3"/>
<line x1="789.6" y1="1879.5" x2="1285.6" y2="1879.5" stroke="rgb(170,170,170)" stroke-width="5.3"/>
<line x1="1037.6" y1="1720.9" x2="1037.6" y2="2038.1" stroke="rgb(170,170,170)" stroke-width="5.3"/>
<line x1="805.0" y1="1916.0" x2="1231.0" y2="1916.0" stroke="rgb(170,170,170)" stroke-width="5.3"/>
<line x1="1018.0" y1="1771.0" x2="1018.0" y2="2061.0" stroke="rgb(170,170,170)" stroke-width="5.3"/>
<line x1="896.1" y1="2023.7" x2="1357.5" y2="2023.7" stroke="rgb(170,170,170)" stroke-width="5.3"/>
<line x1="1126.8" y1="1875.1" x2="1126.8" y2="2172.3" stroke="rgb(170,170,170)" stroke-width="5.3"/>
<line x1="1229.8" y1="1117.0" x2="1715.0" y2="1117.0" stroke="rgba(169,169,169,0.7)" stroke-width="5.3"/>
<line x1="1472.4" y1="984.0" x2="1472.4" y2="1250.0" stroke="rgba(169,169,169,0.7)" stroke-width="5.3"/>
<line x1="1118.6" y1="1226.0" x2="1648.6" y2="1226.0" stroke="rgba(169,169,169,0.7)" stroke-width="5.3"/>
<line x1="1383.6" y1="1051.0" x2="1383.6" y2="1401.0" stroke="rgba(169,169,169,0.7)" stroke-width="5.3"/>
<line x1="1254.2" y1="1233.5" x2="1848.2" y2="1233.5" stroke="rgba(169,169,169,0.7)" stroke-width="5.3"/>
<line x1="1551.2" y1="1008.9" x2="1551.2" y2="1458.1" stroke="rgba(169,169,169,0.7)" stroke-width="5.3"/>
<line x1="959.9" y1="1291.4" x2="1470.7" y2="1291.4" stroke="rgba(169,169,169,0.7)" stroke-width="5.3"/>
<line x1="1215.3" y1="1145.7" x2="1215.3" y2="1437.1" stroke="rgba(169,169,169,0.7)" stroke-width="5.3"/>
<line x1="925.5" y1="1378.5" x2="1485.5" y2="1378.5" stroke="rgba(169,169,169,0.7)" stroke-width="5.3"/>
<line x1="1205.5" y1="1221.7" x2="1205.5" y2="1535.3" stroke="rgba(169,169,169,0.7)" stroke-width="5.3"/>
<line x1="998.6" y1="1385.7" x2="1590.6" y2="1385.7" stroke="rgba(169,169,169,0.7)" stroke-width="5.3"/>
<line x1="1294.6" y1="1212.7" x2="1294.6" y2="1558.7" stroke="rgba(169,169,169,0.7)" stroke-width="5.3"/>
<line x1="873.3" y1="1516.5" x2="1439.3" y2="1516.5" stroke="rgba(169,169,169,0.7)" stroke-width="5.3"/>
<line x1="1156.3" y1="1358.5" x2="1156.3" y2="1674.5" stroke="rgba(169,169,169,0.7)" stroke-width="5.3"/>
<line x1="1440.4" y1="1167.0" x2="1900.4" y2="1167.0" stroke="rgba(169,169,169,0.7)" stroke-width="5.3"/>
<line x1="1670.4" y1="1046.0" x2="1670.4" y2="1288.0" stroke="rgba(169,169,169,0.7)" stroke-width="5.3"/>
<line x1="1547.1" y1="1198.0" x2="1813.1" y2="1198.0" stroke="rgba(169,169,169,0.7)" stroke-width="5.3"/>
<line x1="1680.1" y1="1098.0" x2="1680.1" y2="1298.0" stroke="rgba(169,169,169,0.7)" stroke-width="5.3"/>
<line x1="1470.0" y1="1234.0" x2="1870.0" y2="1234.0" stroke="rgba(169,169,169,0.7)" stroke-width="5.3"/>
<line x1="1670.0" y1="1124.0" x2="1670.0" y2="1344.0" stroke="rgba(169,169,169,0.7)" stroke-width="5.3"/>
<line x1="1400.9" y1="1306.0" x2="1880.9" y2="1306.0" stroke="rgba(169,169,169,0.7)" stroke-width="5.3"/>
<line x1="1640.9" y1="1197.0" x2="1640.9" y2="1415.0" stroke="rgba(169,169,169,0.7)" stroke-width="5.3"/>
<line x1="1420.2" y1="1306.0" x2="1900.2" y2="1306.0" stroke="rgba(169,169,169,0.7)" stroke-width="5.3"/>
<line x1="1660.2" y1="1161.0" x2="1660.2" y2="1451.0" stroke="rgba(169,169,169,0.7)" stroke-width="5.3"/>
<line x1="1450.5" y1="1356.2" x2="1890.5" y2="1356.2" stroke="rgba(169,169,169,0.7)" stroke-width="5.3"/>
<line x1="1670.5" y1="1259.2" x2="1670.5" y2="1453.2" stroke="rgba(169,169,169,0.7)" stroke-width="5.3"/>
<line x1="1463.5" y1="1370.0" x2="1913.5" y2="1370.0" stroke="rgba(169,169,169,0.7)" stroke-width="5.3"/>
<line x1="1688.5" y1="1223.0" x2="1688.5" y2="1517.0" stroke="rgba(169,169,169,0.7)" stroke-width="5.3"/>
<line x1="1539.7" y1="1284.0" x2="1958.7" y2="1284.0" stroke="rgba(169,169,169,0.7)" stroke-width="5.3"/>
<line x1="1749.2" y1="1145.0" x2="1749.2" y2="1423.0" stroke="rgba(169,169,169,0.7)" stroke-width="5.3"/>
<line x1="1552.5" y1="1298.6" x2="1965.1" y2="1298.6" stroke="rgba(169,169,169,0.7)" stroke-width="5.3"/>
<line x1="1758.8" y1="1162.6" x2="1758.8" y2="1434.6" stroke="rgba(169,169,169,0.7)" stroke-width="5.3"/>
<line x1="1617.2" y1="1269.7" x2="2059.2" y2="1269.7" stroke="rgba(169,169,169,0.7)" stroke-width="5.3"/>
<line x1="1838.2" y1="1173.7" x2="1838.2" y2="1365.7" stroke="rgba(169,169,169,0.7)" stroke-width="5.3"/>
<line x1="1715.3" y1="1270.3" x2="2059.3" y2="1270.3" stroke="rgba(169,169,169,0.7)" stroke-width="5.3"/>
<line x1="1887.3" y1="1170.3" x2="1887.3" y2="1370.3" stroke="rgba(169,169,169,0.7)" stroke-width="5.3"/>
<line x1="1737.3" y1="1313.3" x2="2017.3" y2="1313.3" stroke="rgba(169,169,169,0.7)" stroke-width="5.3"/>
<line x1="1877.3" y1="1229.3" x2="1877.3" y2="1397.3" stroke="rgba(169,169,169,0.7)" stroke-width="5.3"/>
<line x1="1692.8" y1="1398.7" x2="2102.8" y2="1398.7" stroke="rgba(169,169,169,0.7)" stroke-width="5.3"/>
<line x1="1897.8" y1="1290.7" x2="1897.8" y2="1506.7" stroke="rgba(169,169,169,0.7)" stroke-width="5.3"/>
<line x1="1866.2" y1="1240.6" x2="2323.2" y2="1240.6" stroke="rgba(169,169,169,0.7)" stroke-width="5.3"/>
<line x1="2094.7" y1="1063.1" x2="2094.7" y2="1418.1" stroke="rgba(169,169,169,0.7)" stroke-width="5.3"/>
<line x1="1461.6" y1="1509.0" x2="1839.6" y2="1509.0" stroke="rgba(169,169,169,0.7)" stroke-width="5.3"/>
<line x1="1650.6" y1="1359.0" x2="1650.6" y2="1659.0" stroke="rgba(169,169,169,0.7)" stroke-width="5.3"/>
<line x1="1715.8" y1="849.0" x2="2157.8" y2="849.0" stroke="rgb(170,170,170)" stroke-width="5.3"/>
<line x1="1936.8" y1="742.5" x2="1936.8" y2="955.5" stroke="rgb(170,170,170)" stroke-width="5.3"/>
<line x1="1764.6" y1="914.0" x2="2148.6" y2="914.0" stroke="rgb(170,170,170)" stroke-width="5.3"/>
<line x1="1956.6" y1="822.3" x2="1956.6" y2="1005.7" stroke="rgb(170,170,170)" stroke-width="5.3"/>
<line x1="1792.3" y1="907.0" x2="2199.7" y2="907.0" stroke="rgb(170,170,170)" stroke-width="5.3"/>
<line x1="1996.0" y1="791.0" x2="1996.0" y2="1023.0" stroke="rgb(170,170,170)" stroke-width="5.3"/>
<line x1="1569.3" y1="980.0" x2="2086.9" y2="980.0" stroke="rgb(170,170,170)" stroke-width="5.3"/>
<line x1="1828.1" y1="830.6" x2="1828.1" y2="1129.4" stroke="rgb(170,170,170)" stroke-width="5.3"/>
<line x1="1559.7" y1="1023.5" x2="2056.9" y2="1023.5" stroke="rgb(170,170,170)" stroke-width="5.3"/>
<line x1="1808.3" y1="894.5" x2="1808.3" y2="1152.5" stroke="rgb(170,170,170)" stroke-width="5.3"/>
<line x1="1706.8" y1="979.7" x2="2166.8" y2="979.7" stroke="rgb(170,170,170)" stroke-width="5.3"/>
<line x1="1936.8" y1="879.7" x2="1936.8" y2="1079.7" stroke="rgb(170,170,170)" stroke-width="5.3"/>
<line x1="1648.8" y1="1045.0" x2="2224.8" y2="1045.0" stroke="rgb(170,170,170)" stroke-width="5.3"/>
<line x1="1936.8" y1="940.0" x2="1936.8" y2="1150.0" stroke="rgb(170,170,170)" stroke-width="5.3"/>
<line x1="1682.3" y1="1008.2" x2="2270.3" y2="1008.2" stroke="rgb(170,170,170)" stroke-width="5.3"/>
<line x1="1976.3" y1="908.2" x2="1976.3" y2="1108.2" stroke="rgb(170,170,170)" stroke-width="5.3"/>
<line x1="1684.6" y1="1008.2" x2="2210.6" y2="1008.2" stroke="rgb(170,170,170)" stroke-width="5.3"/>
<line x1="1947.6" y1="913.2" x2="1947.6" y2="1103.2" stroke="rgb(170,170,170)" stroke-width="5.3"/>
<line x1="1816.0" y1="1001.3" x2="2216.0" y2="1001.3" stroke="rgb(170,170,170)" stroke-width="5.3"/>
<line x1="2016.0" y1="904.7" x2="2016.0" y2="1097.9" stroke="rgb(170,170,170)" stroke-width="5.3"/>
<line x1="1562.0" y1="1080.5" x2="1897.0" y2="1080.5" stroke="rgb(170,170,170)" stroke-width="5.3"/>
<line x1="1729.5" y1="970.5" x2="1729.5" y2="1190.5" stroke="rgb(170,170,170)" stroke-width="5.3"/>
<line x1="1663.2" y1="1124.6" x2="2032.8" y2="1124.6" stroke="rgb(170,170,170)" stroke-width="5.3"/>
<line x1="1848.0" y1="1028.0" x2="1848.0" y2="1221.2" stroke="rgb(170,170,170)" stroke-width="5.3"/>
<line x1="1579.2" y1="1152.0" x2="2097.8" y2="1152.0" stroke="rgb(170,170,170)" stroke-width="5.3"/>
<line x1="1838.5" y1="1052.0" x2="1838.5" y2="1252.0" stroke="rgb(170,170,170)" stroke-width="5.3"/>
<line x1="1697.7" y1="1201.0" x2="2136.9" y2="1201.0" stroke="rgb(170,170,170)" stroke-width="5.3"/>
<line x1="1917.3" y1="1056.0" x2="1917.3" y2="1346.0" stroke="rgb(170,170,170)" stroke-width="5.3"/>
<line x1="1979.2" y1="798.2" x2="2466.8" y2="798.2" stroke="rgb(170,170,170)" stroke-width="5.3"/>
<line x1="2223.0" y1="651.2" x2="2223.0" y2="945.2" stroke="rgb(170,170,170)" stroke-width="5.3"/>
<line x1="1989.1" y1="885.4" x2="2417.7" y2="885.4" stroke="rgb(170,170,170)" stroke-width="5.3"/>
<line x1="2203.4" y1="785.4" x2="2203.4" y2="985.4" stroke="rgb(170,170,170)" stroke-width="5.3"/>
<line x1="2058.6" y1="892.2" x2="2406.6" y2="892.2" stroke="rgb(170,170,170)" stroke-width="5.3"/>
<line x1="2232.6" y1="802.2" x2="2232.6" y2="982.2" stroke="rgb(170,170,170)" stroke-width="5.3"/>
<line x1="1977.0" y1="943.4" x2="2390.6" y2="943.4" stroke="rgb(170,170,170)" stroke-width="5.3"/>
<line x1="2183.8" y1="849.4" x2="2183.8" y2="1037.4" stroke="rgb(170,170,170)" stroke-width="5.3"/>
<line x1="2158.4" y1="972.3" x2="2466.4" y2="972.3" stroke="rgb(170,170,170)" stroke-width="5.3"/>
<line x1="2312.4" y1="873.6" x2="2312.4" y2="1071.0" stroke="rgb(170,170,170)" stroke-width="5.3"/>
<line x1="1948.4" y1="1001.5" x2="2339.6" y2="1001.5" stroke="rgb(170,170,170)" stroke-width="5.3"/>
<line x1="2144.0" y1="886.5" x2="2144.0" y2="1116.5" stroke="rgb(170,170,170)" stroke-width="5.3"/>
<line x1="1944.7" y1="1037.4" x2="2363.3" y2="1037.4" stroke="rgb(170,170,170)" stroke-width="5.3"/>
<line x1="2154.0" y1="948.4" x2="2154.0" y2="1126.4" stroke="rgb(170,170,170)" stroke-width="5.3"/>
<line x1="1991.6" y1="1073.5" x2="2415.2" y2="1073.5" stroke="rgb(170,170,170)" stroke-width="5.3"/>
<line x1="2203.4" y1="896.5" x2="2203.4" y2="1250.5" stroke="rgb(170,170,170)" stroke-width="5.3"/>
<line x1="2059.6" y1="1066.6" x2="2425.8" y2="1066.6" stroke="rgb(170,170,170)" stroke-width="5.3"/>
<line x1="2242.7" y1="964.6" x2="2242.7" y2="1168.6" stroke="rgb(170,170,170)" stroke-width="5.3"/>
<line x1="2112.4" y1="1051.7" x2="2433.2" y2="1051.7" stroke="rgb(170,170,170)" stroke-width="5.3"/>
<line x1="2272.8" y1="944.0" x2="2272.8" y2="1159.4" stroke="rgb(170,170,170)" stroke-width="5.3"/>
<line x1="1985.5" y1="1131.3" x2="2283.3" y2="1131.3" stroke="rgb(170,170,170)" stroke-width="5.3"/>
<line x1="2134.4" y1="1046.5" x2="2134.4" y2="1216.1" stroke="rgb(170,170,170)" stroke-width="5.3"/>
<line x1="2086.9" y1="966.0" x2="2421.7" y2="966.0" stroke="#E04B0A" stroke-width="5.0"/>
<line x1="2254.3" y1="879.4" x2="2254.3" y2="1052.6" stroke="#E04B0A" stroke-width="5.0"/>
</g>
<g id="he" fill="none" stroke="#C8193E" stroke-width="11">
<circle cx="2223.0" cy="798.2" r="38.8"/>
<circle cx="2203.4" cy="885.4" r="38.8"/>
<circle cx="2254.3" cy="966.0" r="38.8"/>
<circle cx="1996.0" cy="907.0" r="38.8"/>
<circle cx="1828.1" cy="980.0" r="38.8"/>
<circle cx="1808.3" cy="1023.5" r="38.8"/>
<circle cx="2016.0" cy="1001.3" r="38.8"/>
<circle cx="1936.8" cy="1045.0" r="38.8"/>
<circle cx="2144.0" cy="1001.5" r="38.8"/>
<circle cx="2242.7" cy="1066.6" r="38.8"/>
<circle cx="2134.4" cy="1131.3" r="38.8"/>
<circle cx="1838.5" cy="1152.0" r="38.8"/>
<circle cx="1917.3" cy="1201.0" r="38.8"/>
<circle cx="1670.4" cy="1167.0" r="38.8"/>
<circle cx="1670.5" cy="1356.2" r="38.8"/>
<circle cx="1688.5" cy="1370.0" r="38.8"/>
<circle cx="1897.8" cy="1398.7" r="38.8"/>
<circle cx="1185.7" cy="1617.7" r="38.8"/>
<circle cx="1037.6" cy="1879.5" r="38.8"/>
</g>
<g id="markers">
<polygon points="781.0,1957.5 759.0,2001.5 803.0,2001.5" fill="#FFFFE0" stroke="#3C5252" stroke-width="5.30" stroke-linejoin="miter" stroke-miterlimit="10" />
<polygon points="958.8,1609.8 936.8,1653.8 980.8,1653.8" fill="#FFFFE0" stroke="#3C5252" stroke-width="5.30" stroke-linejoin="miter" stroke-miterlimit="10" />
<polygon points="1087.1,1689.5 1065.1,1733.5 1109.1,1733.5" fill="#FFFFE0" stroke="#3C5252" stroke-width="5.30" stroke-linejoin="miter" stroke-miterlimit="10" />
<polygon points="1185.7,1595.7 1163.7,1639.7 1207.7,1639.7" fill="#FFFFE0" stroke="#3C5252" stroke-width="5.30" stroke-linejoin="miter" stroke-miterlimit="10" />
<polygon points="968.5,1864.0 946.5,1908.0 990.5,1908.0" fill="#FFFFE0" stroke="#3C5252" stroke-width="5.30" stroke-linejoin="miter" stroke-miterlimit="10" />
<polygon points="1008.0,1867.0 986.0,1911.0 1030.0,1911.0" fill="#FFFFE0" stroke="#3C5252" stroke-width="5.30" stroke-linejoin="miter" stroke-miterlimit="10" />
<polygon points="1037.6,1857.5 1015.6,1901.5 1059.6,1901.5" fill="#FFFFE0" stroke="#3C5252" stroke-width="5.30" stroke-linejoin="miter" stroke-miterlimit="10" />
<polygon points="1018.0,1894.0 996.0,1938.0 1040.0,1938.0" fill="#FFFFE0" stroke="#3C5252" stroke-width="5.30" stroke-linejoin="miter" stroke-miterlimit="10" />
<polygon points="1126.8,2001.7 1104.8,2045.7 1148.8,2045.7" fill="#FFFFE0" stroke="#3C5252" stroke-width="5.30" stroke-linejoin="miter" stroke-miterlimit="10" />
<polygon points="1472.4,1092.5 1447.9,1141.5 1496.9,1141.5" fill="rgba(123,104,238,0.7)" stroke="rgba(138,43,226,0.7)" stroke-width="11.00" stroke-linejoin="miter" stroke-miterlimit="10" />
<polygon points="1383.6,1201.5 1359.1,1250.5 1408.1,1250.5" fill="rgba(123,104,238,0.7)" stroke="rgba(138,43,226,0.7)" stroke-width="11.00" stroke-linejoin="miter" stroke-miterlimit="10" />
<polygon points="1551.2,1209.0 1526.7,1258.0 1575.7,1258.0" fill="rgba(123,104,238,0.7)" stroke="rgba(138,43,226,0.7)" stroke-width="11.00" stroke-linejoin="miter" stroke-miterlimit="10" />
<polygon points="1215.3,1266.9 1190.8,1315.9 1239.8,1315.9" fill="rgba(123,104,238,0.7)" stroke="rgba(138,43,226,0.7)" stroke-width="11.00" stroke-linejoin="miter" stroke-miterlimit="10" />
<polygon points="1205.5,1354.0 1181.0,1403.0 1230.0,1403.0" fill="rgba(123,104,238,0.7)" stroke="rgba(138,43,226,0.7)" stroke-width="11.00" stroke-linejoin="miter" stroke-miterlimit="10" />
<polygon points="1294.6,1361.2 1270.1,1410.2 1319.1,1410.2" fill="rgba(123,104,238,0.7)" stroke="rgba(138,43,226,0.7)" stroke-width="11.00" stroke-linejoin="miter" stroke-miterlimit="10" />
<polygon points="1156.3,1492.0 1131.8,1541.0 1180.8,1541.0" fill="rgba(123,104,238,0.7)" stroke="rgba(138,43,226,0.7)" stroke-width="11.00" stroke-linejoin="miter" stroke-miterlimit="10" />
<polygon points="1670.4,1142.5 1645.9,1191.5 1694.9,1191.5" fill="rgba(123,104,238,0.7)" stroke="rgba(138,43,226,0.7)" stroke-width="11.00" stroke-linejoin="miter" stroke-miterlimit="10" />
<polygon points="1680.1,1173.5 1655.6,1222.5 1704.6,1222.5" fill="rgba(123,104,238,0.7)" stroke="rgba(138,43,226,0.7)" stroke-width="11.00" stroke-linejoin="miter" stroke-miterlimit="10" />
<polygon points="1670.0,1209.5 1645.5,1258.5 1694.5,1258.5" fill="rgba(123,104,238,0.7)" stroke="rgba(138,43,226,0.7)" stroke-width="11.00" stroke-linejoin="miter" stroke-miterlimit="10" />
<polygon points="1640.9,1281.5 1616.4,1330.5 1665.4,1330.5" fill="rgba(123,104,238,0.7)" stroke="rgba(138,43,226,0.7)" stroke-width="11.00" stroke-linejoin="miter" stroke-miterlimit="10" />
<polygon points="1660.2,1281.5 1635.7,1330.5 1684.7,1330.5" fill="rgba(123,104,238,0.7)" stroke="rgba(138,43,226,0.7)" stroke-width="11.00" stroke-linejoin="miter" stroke-miterlimit="10" />
<polygon points="1670.5,1331.7 1646.0,1380.7 1695.0,1380.7" fill="rgba(123,104,238,0.7)" stroke="rgba(138,43,226,0.7)" stroke-width="11.00" stroke-linejoin="miter" stroke-miterlimit="10" />
<polygon points="1688.5,1345.5 1664.0,1394.5 1713.0,1394.5" fill="rgba(123,104,238,0.7)" stroke="rgba(138,43,226,0.7)" stroke-width="11.00" stroke-linejoin="miter" stroke-miterlimit="10" />
<polygon points="1749.2,1259.5 1724.7,1308.5 1773.7,1308.5" fill="rgba(123,104,238,0.7)" stroke="rgba(138,43,226,0.7)" stroke-width="11.00" stroke-linejoin="miter" stroke-miterlimit="10" />
<polygon points="1758.8,1274.1 1734.3,1323.1 1783.3,1323.1" fill="rgba(123,104,238,0.7)" stroke="rgba(138,43,226,0.7)" stroke-width="11.00" stroke-linejoin="miter" stroke-miterlimit="10" />
<polygon points="1838.2,1245.2 1813.7,1294.2 1862.7,1294.2" fill="rgba(123,104,238,0.7)" stroke="rgba(138,43,226,0.7)" stroke-width="11.00" stroke-linejoin="miter" stroke-miterlimit="10" />
<polygon points="1887.3,1245.8 1862.8,1294.8 1911.8,1294.8" fill="rgba(123,104,238,0.7)" stroke="rgba(138,43,226,0.7)" stroke-width="11.00" stroke-linejoin="miter" stroke-miterlimit="10" />
<polygon points="1877.3,1288.8 1852.8,1337.8 1901.8,1337.8" fill="rgba(123,104,238,0.7)" stroke="rgba(138,43,226,0.7)" stroke-width="11.00" stroke-linejoin="miter" stroke-miterlimit="10" />
<polygon points="1897.8,1374.2 1873.3,1423.2 1922.3,1423.2" fill="rgba(123,104,238,0.7)" stroke="rgba(138,43,226,0.7)" stroke-width="11.00" stroke-linejoin="miter" stroke-miterlimit="10" />
<polygon points="2094.7,1216.1 2070.2,1265.1 2119.2,1265.1" fill="rgba(123,104,238,0.7)" stroke="rgba(138,43,226,0.7)" stroke-width="11.00" stroke-linejoin="miter" stroke-miterlimit="10" />
<polygon points="1650.6,1484.5 1626.1,1533.5 1675.1,1533.5" fill="rgba(123,104,238,0.7)" stroke="rgba(138,43,226,0.7)" stroke-width="11.00" stroke-linejoin="miter" stroke-miterlimit="10" />
<polygon points="1936.8,826.8 1914.6,871.2 1959.0,871.2" fill="none" stroke="#4B0082" stroke-width="10.60" stroke-linejoin="miter" stroke-miterlimit="10" />
<polygon points="1956.6,891.8 1934.4,936.2 1978.8,936.2" fill="none" stroke="#4B0082" stroke-width="10.60" stroke-linejoin="miter" stroke-miterlimit="10" />
<polygon points="1996.0,884.8 1973.8,929.2 2018.2,929.2" fill="none" stroke="#4B0082" stroke-width="10.60" stroke-linejoin="miter" stroke-miterlimit="10" />
<polygon points="1828.1,957.8 1805.9,1002.2 1850.3,1002.2" fill="none" stroke="#4B0082" stroke-width="10.60" stroke-linejoin="miter" stroke-miterlimit="10" />
<polygon points="1808.3,1001.3 1786.1,1045.7 1830.5,1045.7" fill="none" stroke="#4B0082" stroke-width="10.60" stroke-linejoin="miter" stroke-miterlimit="10" />
<polygon points="1936.8,957.5 1914.6,1001.9 1959.0,1001.9" fill="none" stroke="#4B0082" stroke-width="10.60" stroke-linejoin="miter" stroke-miterlimit="10" />
<polygon points="1936.8,1022.8 1914.6,1067.2 1959.0,1067.2" fill="none" stroke="#4B0082" stroke-width="10.60" stroke-linejoin="miter" stroke-miterlimit="10" />
<polygon points="1976.3,986.0 1954.1,1030.4 1998.5,1030.4" fill="none" stroke="#4B0082" stroke-width="10.60" stroke-linejoin="miter" stroke-miterlimit="10" />
<polygon points="1947.6,986.0 1925.4,1030.4 1969.8,1030.4" fill="none" stroke="#4B0082" stroke-width="10.60" stroke-linejoin="miter" stroke-miterlimit="10" />
<polygon points="2016.0,979.1 1993.8,1023.5 2038.2,1023.5" fill="none" stroke="#4B0082" stroke-width="10.60" stroke-linejoin="miter" stroke-miterlimit="10" />
<polygon points="1729.5,1058.3 1707.3,1102.7 1751.7,1102.7" fill="none" stroke="#4B0082" stroke-width="10.60" stroke-linejoin="miter" stroke-miterlimit="10" />
<polygon points="1848.0,1102.4 1825.8,1146.8 1870.2,1146.8" fill="none" stroke="#4B0082" stroke-width="10.60" stroke-linejoin="miter" stroke-miterlimit="10" />
<polygon points="1838.5,1129.8 1816.3,1174.2 1860.7,1174.2" fill="none" stroke="#4B0082" stroke-width="10.60" stroke-linejoin="miter" stroke-miterlimit="10" />
<polygon points="1917.3,1178.8 1895.1,1223.2 1939.5,1223.2" fill="none" stroke="#4B0082" stroke-width="10.60" stroke-linejoin="miter" stroke-miterlimit="10" />
<polygon points="2223.0,776.0 2200.8,820.4 2245.2,820.4" fill="none" stroke="#4B0082" stroke-width="10.60" stroke-linejoin="miter" stroke-miterlimit="10" />
<polygon points="2203.4,863.2 2181.2,907.6 2225.6,907.6" fill="none" stroke="#4B0082" stroke-width="10.60" stroke-linejoin="miter" stroke-miterlimit="10" />
<polygon points="2232.6,870.0 2210.4,914.4 2254.8,914.4" fill="none" stroke="#4B0082" stroke-width="10.60" stroke-linejoin="miter" stroke-miterlimit="10" />
<polygon points="2183.8,921.2 2161.6,965.6 2206.0,965.6" fill="none" stroke="#4B0082" stroke-width="10.60" stroke-linejoin="miter" stroke-miterlimit="10" />
<polygon points="2312.4,950.1 2290.2,994.5 2334.6,994.5" fill="none" stroke="#4B0082" stroke-width="10.60" stroke-linejoin="miter" stroke-miterlimit="10" />
<polygon points="2144.0,979.3 2121.8,1023.7 2166.2,1023.7" fill="none" stroke="#4B0082" stroke-width="10.60" stroke-linejoin="miter" stroke-miterlimit="10" />
<polygon points="2154.0,1015.2 2131.8,1059.6 2176.2,1059.6" fill="none" stroke="#4B0082" stroke-width="10.60" stroke-linejoin="miter" stroke-miterlimit="10" />
<polygon points="2203.4,1051.3 2181.2,1095.7 2225.6,1095.7" fill="none" stroke="#4B0082" stroke-width="10.60" stroke-linejoin="miter" stroke-miterlimit="10" />
<polygon points="2242.7,1044.4 2220.5,1088.8 2264.9,1088.8" fill="none" stroke="#4B0082" stroke-width="10.60" stroke-linejoin="miter" stroke-miterlimit="10" />
<polygon points="2272.8,1029.5 2250.6,1073.9 2295.0,1073.9" fill="none" stroke="#4B0082" stroke-width="10.60" stroke-linejoin="miter" stroke-miterlimit="10" />
<polygon points="2134.4,1109.1 2112.2,1153.5 2156.6,1153.5" fill="none" stroke="#4B0082" stroke-width="10.60" stroke-linejoin="miter" stroke-miterlimit="10" />
<polygon points="2254.3,935.2 2223.6,996.8 2285.1,996.8" fill="none" stroke="#E04B0A" stroke-width="10.00" stroke-linejoin="miter" stroke-miterlimit="10" />
</g>
</g>
<rect x="570.4" y="131.6" width="729.9" height="623.4" rx="12" ry="12" fill="rgba(255,255,255,0.8)" stroke="rgba(204,204,204,0.8)" stroke-width="5.8"/>
<polygon points="671.0,160.1 646.0,210.1 696.0,210.1" fill="#FFFFE0" stroke="#3C5252" stroke-width="5.00" stroke-linejoin="miter" stroke-miterlimit="10" />
<polygon points="671.0,262.5 646.5,311.5 695.5,311.5" fill="rgba(123,104,238,0.7)" stroke="rgba(138,43,226,0.7)" stroke-width="11.00" stroke-linejoin="miter" stroke-miterlimit="10" />
<polygon points="671.0,363.5 646.5,412.5 695.5,412.5" fill="none" stroke="#4B0082" stroke-width="11.00" stroke-linejoin="miter" stroke-miterlimit="10" />
<circle cx="671.0" cy="487.4" r="41.8" fill="none" stroke="#C8193E" stroke-width="11"/>
<circle cx="671.0" cy="587.9" r="12.55" fill="rgba(160,160,160,0.45)" stroke="rgba(128,128,128,0.5)" stroke-width="11.1"/>
<polygon points="671.0,655.0 635.0,727.0 707.0,727.0" fill="none" stroke="#E04B0A" stroke-width="10.40" stroke-linejoin="miter" stroke-miterlimit="10" />
<text x="801.5" y="210.0" font-size="74.0" textLength="450.5" lengthAdjust="spacingAndGlyphs" >Group 1 BSGs</text>
<text x="801.5" y="311.3" font-size="74.0" textLength="450.5" lengthAdjust="spacingAndGlyphs" >Group 2 BSGs</text>
<text x="801.5" y="411.7" font-size="74.0" textLength="450.5" lengthAdjust="spacingAndGlyphs" >Group 3 BSGs</text>
<text x="801.5" y="513.0" font-size="74.0" textLength="417.5" lengthAdjust="spacingAndGlyphs" >He-rich BSGs</text>
<text x="801.5" y="613.4" font-size="74.0" textLength="469.5" lengthAdjust="spacingAndGlyphs" >FLAMES-I MS</text>
<text x="801.5" y="714.6" font-size="74.0" textLength="316.0" lengthAdjust="spacingAndGlyphs" >Sk-69<tspan dx="8" dy="-2" font-size="74">°</tspan><tspan dy="2" dx="-4">202</tspan></text>
<rect x="1614.6" y="1580.6" width="1845.5" height="722.8" rx="12" ry="12" fill="rgba(255,255,255,0.8)" stroke="rgba(204,204,204,0.8)" stroke-width="5.8"/>
<polygon points="1715.3,1588.2 1726.4,1622.5 1762.5,1622.5 1733.3,1643.7 1744.5,1677.9 1715.3,1656.7 1686.1,1677.9 1697.3,1643.7 1668.1,1622.5 1704.2,1622.5" fill="rgba(120,215,200,0.67)" stroke="rgba(95,158,160,0.85)" stroke-width="11.80" stroke-linejoin="bevel" />
<polygon points="1715.2,1703.1 1726.4,1737.4 1762.5,1737.4 1733.3,1758.7 1744.4,1793.0 1715.2,1771.8 1686.0,1793.0 1697.1,1758.7 1667.9,1737.4 1704.0,1737.4" fill="none" stroke="rgba(128,131,26,0.8)" stroke-width="16.80" stroke-linejoin="bevel" />
<polygon points="1714.8,1808.0 1726.0,1842.5 1762.4,1842.5 1733.0,1863.9 1744.2,1898.5 1714.8,1877.1 1685.4,1898.5 1696.6,1863.9 1667.2,1842.5 1703.6,1842.5" fill="#F5D633" stroke="#D2A62E" stroke-width="10.40" stroke-linejoin="bevel" />
<polygon points="1714.8,1912.0 1726.0,1946.5 1762.4,1946.5 1733.0,1967.9 1744.2,2002.5 1714.8,1981.1 1685.4,2002.5 1696.6,1967.9 1667.2,1946.5 1703.6,1946.5" fill="none" stroke="#D4A72C" stroke-width="10.40" stroke-linejoin="bevel" />
<polygon points="1714.8,2038.4 1726.0,2072.9 1762.4,2072.9 1733.0,2094.3 1744.2,2128.9 1714.8,2107.5 1685.4,2128.9 1696.6,2094.3 1667.2,2072.9 1703.6,2072.9" fill="#B08D8D" stroke="#B08D8D" stroke-width="10.40" stroke-linejoin="bevel" />
<polygon points="1714.8,2165.7 1726.0,2200.2 1762.4,2200.2 1733.0,2221.6 1744.2,2256.2 1714.8,2234.8 1685.4,2256.2 1696.6,2221.6 1667.2,2200.2 1703.6,2200.2" fill="none" stroke="#B08D8D" stroke-width="10.40" stroke-linejoin="bevel" />
<text x="1847.0" y="1663.4" font-size="69.5" textLength="466.0" lengthAdjust="spacingAndGlyphs" >Binary mergers</text>
<text x="2344.0" y="1663.4" font-size="69.5" textLength="429.0" lengthAdjust="spacingAndGlyphs" >(<tspan font-style="italic">f</tspan><tspan font-size="60" dy="10">c</tspan><tspan dy="-10"> </tspan><tspan font-size="86" dy="9">=</tspan><tspan dy="-9"> </tspan><tspan font-style="italic">f</tspan><tspan font-size="60" dy="10">c,max</tspan><tspan dy="-10">)</tspan></text>
<text x="1847.0" y="1777.6" font-size="69.5" textLength="466.0" lengthAdjust="spacingAndGlyphs" >Binary mergers</text>
<text x="2344.0" y="1777.6" font-size="69.5" textLength="247.0" lengthAdjust="spacingAndGlyphs" >(<tspan font-style="italic">f</tspan><tspan font-size="60" dy="10">c</tspan><tspan dy="-10"> </tspan><tspan font-size="86" dy="9">=</tspan><tspan dy="-9"> 0)</tspan></text>
<text x="1847.0" y="1881.9" font-size="69.5" textLength="739.0" lengthAdjust="spacingAndGlyphs" >Classical blue-loop stars</text>
<text x="1851.0" y="1986.1" font-size="69.5" textLength="362.0" lengthAdjust="spacingAndGlyphs" >TAMS stars</text>
<text x="2243.0" y="1986.1" font-size="69.5" textLength="587.0" lengthAdjust="spacingAndGlyphs" >(v<tspan font-size="66" dy="24">i,rot</tspan><tspan dy="-24"> </tspan><tspan font-size="86" dy="9">≈</tspan><tspan dy="-9"> 220 km/s)</tspan></text>
<text x="1847.0" y="2113.9" font-size="69.5" textLength="962.0" lengthAdjust="spacingAndGlyphs" >High-luminosity blue-loop stars</text>
<text x="2838.0" y="2113.9" font-size="69.5" textLength="518.0" lengthAdjust="spacingAndGlyphs" >(v<tspan font-size="66" dy="24">i,rot</tspan><tspan dy="-24"> </tspan><tspan font-size="86" dy="9">=</tspan><tspan dy="-9"> 0 km/s)</tspan></text>
<text x="1847.0" y="2240.9" font-size="69.5" textLength="962.0" lengthAdjust="spacingAndGlyphs" >High-luminosity blue-loop stars</text>
<text x="2838.0" y="2240.9" font-size="69.5" textLength="590.0" lengthAdjust="spacingAndGlyphs" >(v<tspan font-size="66" dy="24">i,rot</tspan><tspan dy="-24"> </tspan><tspan font-size="86" dy="9">≈</tspan><tspan dy="-9"> 330 km/s)</tspan></text>
<text x="839.0" y="2121.4" font-size="70.5" textLength="186.0" lengthAdjust="spacingAndGlyphs" font-weight="bold">LMC</text>
<text x="1051.0" y="2121.4" font-size="70.5" textLength="413.0" lengthAdjust="spacingAndGlyphs" font-weight="bold">BASELINE</text>
<rect x="534.3" y="95.0" width="2963.5" height="2248.3" fill="none" stroke="#000" stroke-width="4.6"/>
<text x="582.3" y="2449.6" font-size="123.5" text-anchor="middle" textLength="147" lengthAdjust="spacingAndGlyphs">1.7</text>
<text x="415.2" y="2458.8" font-size="123.5" textLength="92" lengthAdjust="spacingAndGlyphs">−</text>
<text x="977.4" y="2449.6" font-size="123.5" text-anchor="middle" textLength="147" lengthAdjust="spacingAndGlyphs">1.3</text>
<text x="810.3" y="2458.8" font-size="123.5" textLength="92" lengthAdjust="spacingAndGlyphs">−</text>
<text x="1372.6" y="2449.6" font-size="123.5" text-anchor="middle" textLength="147" lengthAdjust="spacingAndGlyphs">0.9</text>
<text x="1205.5" y="2458.8" font-size="123.5" textLength="92" lengthAdjust="spacingAndGlyphs">−</text>
<text x="1767.7" y="2449.6" font-size="123.5" text-anchor="middle" textLength="147" lengthAdjust="spacingAndGlyphs">0.5</text>
<text x="1600.6" y="2458.8" font-size="123.5" textLength="92" lengthAdjust="spacingAndGlyphs">−</text>
<text x="2162.8" y="2449.6" font-size="123.5" text-anchor="middle" textLength="147" lengthAdjust="spacingAndGlyphs">0.1</text>
<text x="1995.7" y="2458.8" font-size="123.5" textLength="92" lengthAdjust="spacingAndGlyphs">−</text>
<text x="2510.0" y="2449.6" font-size="123.5" text-anchor="middle" textLength="147" lengthAdjust="spacingAndGlyphs">0.3</text>
<text x="2905.1" y="2449.6" font-size="123.5" text-anchor="middle" textLength="147" lengthAdjust="spacingAndGlyphs">0.7</text>
<text x="3300.2" y="2449.6" font-size="123.5" text-anchor="middle" textLength="147" lengthAdjust="spacingAndGlyphs">1.1</text>
<text x="514.0" y="2387.3" font-size="123.5" text-anchor="end" textLength="147" lengthAdjust="spacingAndGlyphs">1.2</text>
<text x="276.9" y="2396.5" font-size="123.5" textLength="92" lengthAdjust="spacingAndGlyphs">−</text>
<text x="514.0" y="2097.2" font-size="123.5" text-anchor="end" textLength="147" lengthAdjust="spacingAndGlyphs">0.8</text>
<text x="276.9" y="2106.4" font-size="123.5" textLength="92" lengthAdjust="spacingAndGlyphs">−</text>
<text x="514.0" y="1807.1" font-size="123.5" text-anchor="end" textLength="147" lengthAdjust="spacingAndGlyphs">0.4</text>
<text x="276.9" y="1816.3" font-size="123.5" textLength="92" lengthAdjust="spacingAndGlyphs">−</text>
<text x="514.0" y="1517.0" font-size="123.5" text-anchor="end" textLength="147" lengthAdjust="spacingAndGlyphs">0.0</text>
<text x="514.0" y="1226.9" font-size="123.5" text-anchor="end" textLength="147" lengthAdjust="spacingAndGlyphs">0.4</text>
<text x="514.0" y="936.8" font-size="123.5" text-anchor="end" textLength="147" lengthAdjust="spacingAndGlyphs">0.8</text>
<text x="514.0" y="646.7" font-size="123.5" text-anchor="end" textLength="147" lengthAdjust="spacingAndGlyphs">1.2</text>
<text x="514.0" y="356.6" font-size="123.5" text-anchor="end" textLength="147" lengthAdjust="spacingAndGlyphs">1.6</text>
<text x="1753.5" y="2575.7" font-size="115" font-weight="bold" textLength="155" lengthAdjust="spacingAndGlyphs">log</text>
<text x="1934" y="2575.7" font-size="115" font-weight="bold" textLength="343" lengthAdjust="spacingAndGlyphs">(N/O)</text>
<text transform="translate(224.9,1480.5) rotate(-90)" font-size="115" font-weight="bold" textLength="154" lengthAdjust="spacingAndGlyphs">log</text>
<text transform="translate(224.9,1303.5) rotate(-90)" font-size="115" font-weight="bold" textLength="337" lengthAdjust="spacingAndGlyphs">(N/C)</text>
</svg></body></html>
